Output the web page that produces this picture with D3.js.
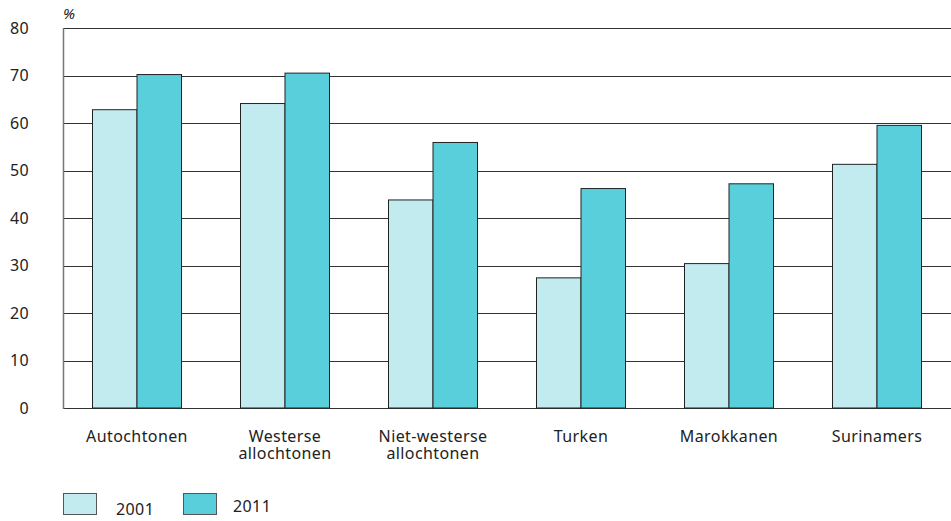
<!DOCTYPE html>
<html><head><meta charset="utf-8">
<script src="https://cdn.jsdelivr.net/npm/d3@7"></script>
<style>body{margin:0;background:#fff}svg text{font-family:"Noto Sans",sans-serif;}</style>
</head><body><svg id="c" width="951" height="521"></svg>
<script>
const categories = [["Autochtonen"],["Westerse","allochtonen"],["Niet-westerse","allochtonen"],["Turken"],["Marokkanen"],["Surinamers"]];
const seriesNames = ["2001","2011"];
const values2001 = [62.8, 64.1, 43.8, 27.4, 30.4, 51.3];
const values2011 = [70.2, 70.5, 55.9, 46.2, 47.2, 59.5];
const yTicks = [0,10,20,30,40,50,60,70,80];
const colors = ["#c2ebf0","#5acfdc"];

const svg = d3.select("#c");
const pLeft = 63, pRight = 951, pTop = 28, pBottom = 408;
const x = d3.scaleBand().domain(d3.range(categories.length)).range([pLeft, pRight]);
const xs = d3.scaleBand().domain([0,1]).range([0, 89]);
const y = d3.scaleLinear().domain([0,80]).range([pBottom, pTop]);

// gridlines
svg.append("g").selectAll("line").data(yTicks).join("line")
  .attr("x1", pLeft).attr("x2", pRight)
  .attr("y1", d => Math.round(y(d)) + 0.5).attr("y2", d => Math.round(y(d)) + 0.5)
  .attr("stroke", "#333").attr("stroke-width", 1);

// y axis
const yAxis = d3.axisLeft(y).tickValues(yTicks).tickSize(0).tickPadding(0);
const ga = svg.append("g").attr("transform", `translate(29,0)`).call(yAxis);
ga.select(".domain").remove();
ga.selectAll("text").attr("font-size", 16).attr("fill", "#222").attr("font-family", "Noto Sans").attr("letter-spacing", 0.3);

svg.append("line").attr("x1", pLeft+0.5).attr("x2", pLeft+0.5).attr("y1", pTop).attr("y2", pBottom+1)
  .attr("stroke", "#777").attr("stroke-width", 1.5);

svg.append("text").attr("x", 63).attr("y", 19).attr("font-size", 15).attr("font-style", "italic")
  .attr("fill", "#222").text("%");

// bars
const data = categories.map((c, i) => [values2001[i], values2011[i]]);
const grp = svg.append("g").selectAll("g").data(data).join("g")
  .attr("transform", (d, i) => `translate(${x(i) + x.bandwidth()/2 - 44.5},0)`);
grp.selectAll("rect").data(d => d).join("rect")
  .attr("x", (d, j) => xs(j)).attr("width", xs.bandwidth())
  .attr("y", d => y(d)).attr("height", d => y(0) - y(d))
  .attr("fill", (d, j) => colors[j]).attr("stroke", "#222").attr("stroke-width", 1);

// category labels
const lab = svg.append("g").selectAll("text").data(categories).join("text")
  .attr("x", (d, i) => x(i) + x.bandwidth()/2).attr("y", 442)
  .attr("text-anchor", "middle").attr("font-size", 16).attr("letter-spacing", 0.4).attr("fill", "#222");
lab.selectAll("tspan").data(d => d).join("tspan")
  .attr("x", function(){ return this.parentNode.getAttribute("x"); })
  .attr("dy", (d, k) => k === 0 ? 0 : 17).text(d => d);

// legend
const legX = [63, 183], legTextX = [116, 233], legBase = [515, 512];
const lg = svg.append("g").selectAll("g").data(seriesNames).join("g");
lg.append("rect").attr("x", (d, i) => legX[i] + 0.5).attr("y", 493.5).attr("width", 33).attr("height", 21)
  .attr("fill", (d, i) => colors[i]).attr("stroke", "#555").attr("stroke-width", 1);
lg.append("text").attr("x", (d, i) => legTextX[i]).attr("y", (d, i) => legBase[i])
  .attr("font-size", 16).attr("letter-spacing", 0.4).attr("fill", "#222").text(d => d);
</script></body></html>
